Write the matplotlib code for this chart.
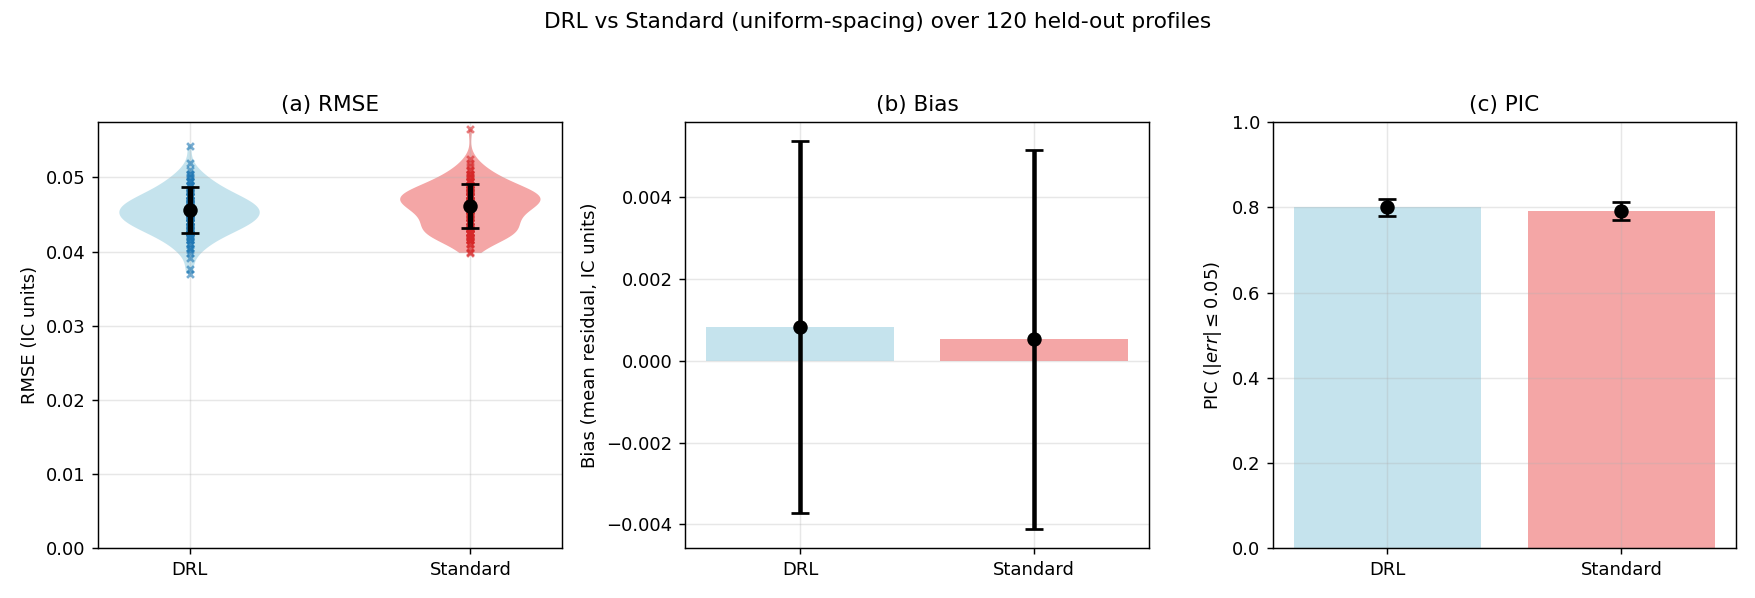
import numpy as np
import matplotlib
matplotlib.use("Agg")
import matplotlib.pyplot as plt

methods = ["DRL", "Standard"]
colors = ["lightblue", "lightcoral"]
point_colors = ["tab:blue", "tab:red"]

# per-profile RMSE (value, how many profiles)
drl_rmse_vals = [0.0370, 0.0376, 0.0391, 0.0398, 0.0402, 0.0405, 0.0410, 0.0415, 0.0420,
                 0.0425, 0.0430, 0.0435, 0.0440, 0.0445, 0.0450, 0.0455, 0.0460, 0.0465,
                 0.0470, 0.0475, 0.0480, 0.0485, 0.0490, 0.0495, 0.0500, 0.0505, 0.0510,
                 0.0520, 0.0543]
drl_rmse_counts = [1, 1, 1, 1, 1, 2, 2, 3, 4, 5, 6, 7, 8, 9, 8, 9, 9, 8, 7, 6, 5, 4, 3, 3, 2, 2, 1, 1, 1]
std_rmse_vals = [0.0398, 0.0400, 0.0405, 0.0410, 0.0415, 0.0420, 0.0425, 0.0430, 0.0435,
                 0.0440, 0.0445, 0.0450, 0.0455, 0.0460, 0.0465, 0.0470, 0.0475, 0.0480,
                 0.0485, 0.0490, 0.0495, 0.0500, 0.0505, 0.0510, 0.0515, 0.0520, 0.0525, 0.0565]
std_rmse_counts = [1, 1, 1, 2, 4, 5, 6, 6, 5, 5, 5, 5, 6, 7, 8, 9, 9, 8, 6, 5, 4, 3, 3, 2, 1, 1, 1, 1]

rmse_mean = [0.04559, 0.04617]
rmse_sd = [0.00309, 0.00297]

bias_mean = [0.00083, 0.00053]
bias_sd = [0.00454, 0.00464]

pic_mean = [0.800, 0.791]
pic_err = [0.0205, 0.0205]

rmse = [np.repeat(drl_rmse_vals, drl_rmse_counts), np.repeat(std_rmse_vals, std_rmse_counts)]
x = np.arange(len(methods))

fig = plt.figure(figsize=(13.5, 4.6), dpi=130)
ax1 = fig.add_axes([0.0560, 0.0831, 0.2640, 0.7129])
ax2 = fig.add_axes([0.3905, 0.0831, 0.2640, 0.7129])
ax3 = fig.add_axes([0.7252, 0.0831, 0.2640, 0.7129])

# (a) RMSE violins
parts = ax1.violinplot(rmse, positions=x, showmeans=False, showmedians=False, showextrema=False)
for body, c in zip(parts["bodies"], colors):
    body.set_facecolor(c)
    body.set_edgecolor("none")
    body.set_alpha(0.7)
for i in range(len(methods)):
    ax1.scatter(np.full(len(rmse[i]), x[i]), rmse[i], marker="x", s=14, linewidths=1.5,
                color=point_colors[i], alpha=0.6, zorder=3)
ax1.errorbar(x, rmse_mean, yerr=rmse_sd, fmt="o", color="black", markersize=7,
             capsize=5, elinewidth=3, capthick=1.5, zorder=4)
ax1.set_ylim(bottom=0)
ax1.set_xticks(x)
ax1.set_xticklabels(methods)
ax1.set_ylabel("RMSE (IC units)")
ax1.set_title("(a) RMSE")
ax1.grid(alpha=0.3)

# (b) Bias
ax2.bar(x, bias_mean, color=colors, alpha=0.7)
ax2.errorbar(x, bias_mean, yerr=bias_sd, fmt="o", color="black", markersize=7,
             capsize=5, elinewidth=2.5, capthick=1.5)
ax2.set_xticks(x)
ax2.set_xticklabels(methods)
ax2.set_ylabel("Bias (mean residual, IC units)")
ax2.set_title("(b) Bias")
ax2.grid(alpha=0.3)

# (c) PIC
ax3.bar(x, pic_mean, color=colors, alpha=0.7)
ax3.errorbar(x, pic_mean, yerr=pic_err, fmt="o", color="black", markersize=7,
             capsize=5, elinewidth=1.5, capthick=1.5)
ax3.set_ylim(0, 1)
ax3.set_xticks(x)
ax3.set_xticklabels(methods)
ax3.set_ylabel(r"PIC ($|err| \leq 0.05$)")
ax3.set_title("(c) PIC")
ax3.grid(alpha=0.3)

fig.suptitle("DRL vs Standard (uniform-spacing) over 120 held-out profiles")
fig.savefig("out.png", dpi=130)
